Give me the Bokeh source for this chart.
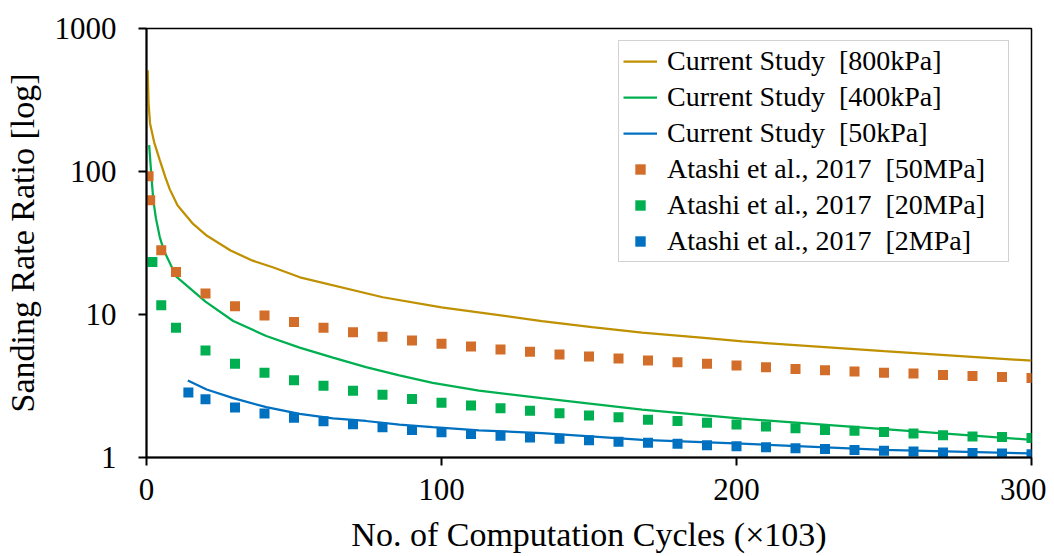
from bokeh.plotting import figure
from bokeh.models import Range1d, FixedTicker
from bokeh.embed import file_html
from bokeh.resources import INLINE

# ---------------- data ----------------
x_tick_values = [0, 100, 200, 300]
x_tick_labels = ["0", "100", "200", "300"]
y_tick_values = [1, 10, 100, 1000]
y_tick_labels = ["1", "10", "100", "1000"]

# Current Study curves
cs800_x = [0.4, 0.7, 1.2, 2.6, 4.5, 6.5, 7.9, 10.5, 15.8, 20.5, 28.5, 36.0, 42.8, 52.0, 80.1, 100.0,
           134.0, 151.0, 168.0, 188.0, 202.0, 250.0, 300.0]
cs800_y = [510, 300, 217, 160, 120, 90, 75, 58, 43, 35.5, 28.0, 23.8, 21.4, 18.2, 13.2, 11.2,
           9.0, 8.17, 7.46, 6.88, 6.48, 5.55, 4.75]

cs400_x = [0.9, 1.6, 2.3, 3.2, 4.5, 5.9, 10.1, 20.0, 29.4, 40.6, 51.9, 63.2, 74.4, 85.7, 97.0, 112.7,
           134.0, 168.0, 201.7, 250.0, 300.0]
cs400_y = [153, 97, 63, 47, 34.8, 28.0, 18.4, 12.3, 9.0, 7.08, 5.87, 4.99, 4.28, 3.75, 3.33, 2.94,
           2.60, 2.16, 1.87, 1.58, 1.33]

cs50_x = [14.0, 20.4, 29.4, 40.6, 51.9, 63.2, 74.4, 85.7, 97.0, 112.7, 134.0, 168.0, 201.7, 250.0, 300.0]
cs50_y = [3.46, 2.99, 2.60, 2.25, 2.02, 1.88, 1.80, 1.70, 1.63, 1.55, 1.48, 1.33, 1.25, 1.13, 1.067]

# Atashi et al., 2017 data points
at50_x = [0.7, 1.25, 5, 10, 20, 30, 40, 50, 60, 70, 80, 90, 100, 110, 120, 130, 140, 150, 160, 170,
          180, 190, 200, 210, 220, 230, 240, 250, 260, 270, 280, 290, 300]
at50_y = [92.6, 62.9, 28.1, 19.8, 14.0, 11.4, 9.85, 8.85, 8.08, 7.5, 7.0, 6.59, 6.25, 5.98, 5.70, 5.49,
          5.26, 5.09, 4.93, 4.77, 4.64, 4.52, 4.40, 4.27, 4.16, 4.07, 4.0, 3.92, 3.86, 3.78, 3.72, 3.66, 3.60]

at20_x = [2, 5, 10, 20, 30, 40, 50, 60, 70, 80, 90, 100, 110, 120, 130, 140, 150, 160, 170,
          180, 190, 200, 210, 220, 230, 240, 250, 260, 270, 280, 290, 300]
at20_y = [23.3, 11.6, 8.08, 5.61, 4.53, 3.92, 3.47, 3.18, 2.93, 2.75, 2.57, 2.41, 2.31, 2.21, 2.12,
          2.04, 1.97, 1.91, 1.84, 1.80, 1.75, 1.70, 1.65, 1.60, 1.56, 1.54, 1.51, 1.47, 1.43, 1.40, 1.39, 1.37]

at2_x = [14.2, 20, 30, 40, 50, 60, 70, 80, 90, 100, 110, 120, 130, 140, 150, 160, 170,
         180, 190, 200, 210, 220, 230, 240, 250, 260, 270, 280, 290, 300]
at2_y = [2.85, 2.55, 2.24, 2.03, 1.90, 1.79, 1.71, 1.63, 1.56, 1.50, 1.46, 1.42, 1.38, 1.35, 1.32,
         1.29, 1.27, 1.25, 1.22, 1.20, 1.18, 1.16, 1.145, 1.13, 1.115, 1.10, 1.085, 1.075, 1.065, 1.055]

labels = ["Current Study  [800kPa]", "Current Study  [400kPa]", "Current Study  [50kPa]",
          "Atashi et al., 2017  [50MPa]", "Atashi et al., 2017  [20MPa]", "Atashi et al., 2017  [2MPa]"]

# ---------------- styling ----------------
GOLD = "#BF9000"
GREEN = "#00B050"
BLUE = "#0070C0"
ORANGE = "#D36E2A"
FONT = "Liberation Serif"

p = figure(width=1046, height=556, output_backend="svg", toolbar_location=None,
           x_range=Range1d(0, 300), y_range=Range1d(1, 1000), y_axis_type="log",
           min_border_left=143, min_border_right=15, min_border_top=28, min_border_bottom=99)

p.background_fill_color = "white"
p.border_fill_color = "white"
p.outline_line_color = "black"
p.outline_line_width = 1.5
p.xgrid.visible = False
p.ygrid.visible = False

p.line(cs800_x, cs800_y, line_color=GOLD, line_width=2.25, legend_label=labels[0])
p.line(cs400_x, cs400_y, line_color=GREEN, line_width=2.25, legend_label=labels[1])
p.line(cs50_x, cs50_y, line_color=BLUE, line_width=2.25, legend_label=labels[2])
p.scatter(at50_x, at50_y, marker="square", size=10, fill_color=ORANGE, line_color=None, legend_label=labels[3])
p.scatter(at20_x, at20_y, marker="square", size=10, fill_color=GREEN, line_color=None, legend_label=labels[4])
p.scatter(at2_x, at2_y, marker="square", size=10, fill_color=BLUE, line_color=None, legend_label=labels[5])

p.xaxis.ticker = FixedTicker(ticks=x_tick_values, minor_ticks=[])
p.xaxis.major_label_overrides = dict(zip(x_tick_values, x_tick_labels))
p.yaxis.ticker = FixedTicker(ticks=y_tick_values, minor_ticks=[])
p.yaxis.major_label_overrides = dict(zip(y_tick_values, y_tick_labels))

p.xaxis.axis_label = "No. of Computation Cycles (×103)"
p.yaxis.axis_label = "Sanding Rate Ratio [log]"

for ax in (p.xaxis[0], p.yaxis[0]):
    ax.axis_line_color = "black"
    ax.axis_line_width = 2
    ax.major_tick_line_color = "black"
    ax.major_tick_line_width = 2
    ax.major_tick_in = 0
    ax.major_tick_out = 8
    ax.minor_tick_line_color = None
    ax.major_label_text_font = FONT
    ax.major_label_text_font_size = "31px"
    ax.major_label_text_color = "black"
    ax.axis_label_text_font = FONT
    ax.axis_label_text_font_size = "34px"
    ax.axis_label_text_font_style = "normal"
    ax.axis_label_text_color = "black"

p.yaxis.major_label_standoff = 22
p.yaxis.axis_label_standoff = 11
p.xaxis.major_label_standoff = 13
p.xaxis.axis_label_standoff = 13

lg = p.legend[0]
lg.location = (472, 195)
lg.padding = 4
lg.spacing = 4
lg.margin = 0
lg.label_height = 32
lg.glyph_height = 26
lg.glyph_width = 34
lg.label_standoff = 10
lg.label_width = 337
lg.border_line_color = "#A6A6A6"
lg.border_line_width = 1
lg.background_fill_color = "white"
lg.background_fill_alpha = 1
lg.label_text_font = FONT
lg.label_text_font_size = "28px"
lg.label_text_color = "black"

open("out.html", "w").write(file_html(p, INLINE))
